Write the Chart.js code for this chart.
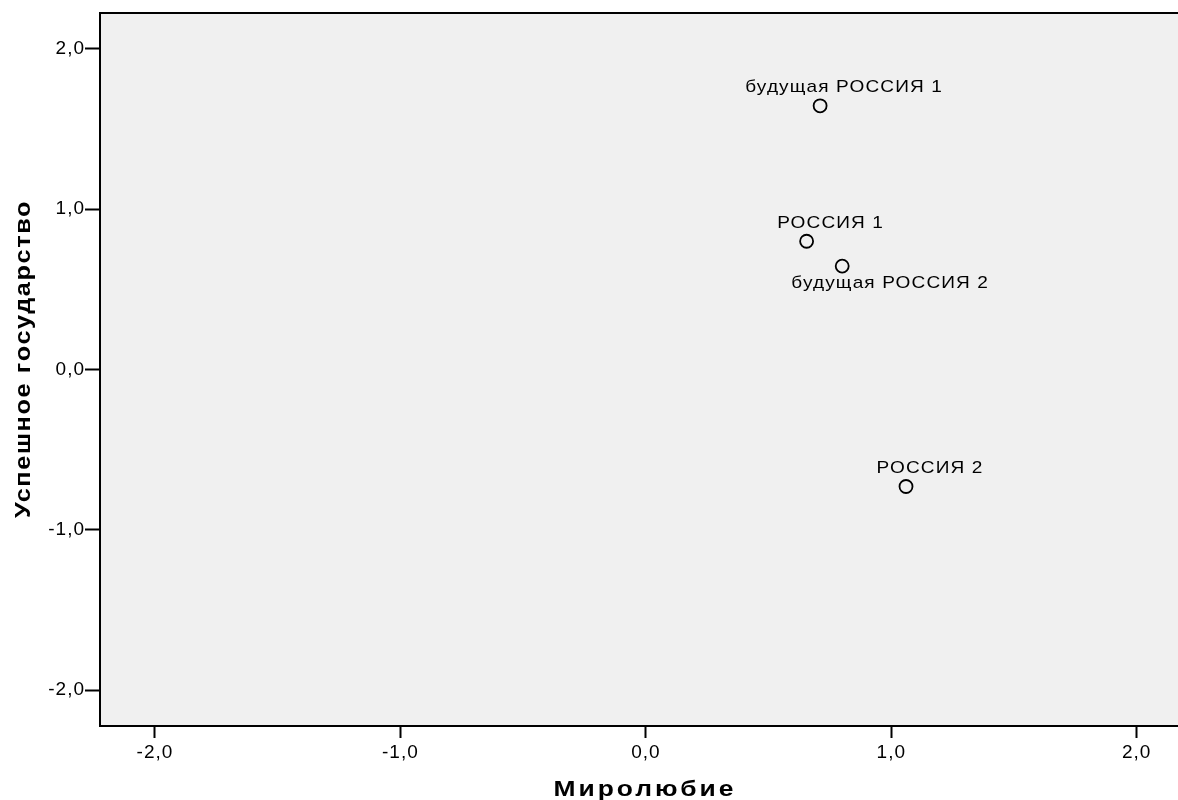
<!DOCTYPE html>
<html>
<head>
<meta charset="utf-8">
<script src="https://cdn.jsdelivr.net/npm/chart.js@4"></script>
<style>
  html, body { margin: 0; padding: 0; background: #fff; overflow: hidden; }
  #wrap { width: 1200px; height: 800px; }
</style>
</head>
<body>
<div id="wrap"><canvas id="chart"></canvas></div>
<script>
// data
const pointNames = ["будущая РОССИЯ 1", "РОССИЯ 1", "будущая РОССИЯ 2", "РОССИЯ 2"];
const peaceValues = [0.71, 0.655, 0.80, 1.06];     // Миролюбие (x)
const successValues = [1.645, 0.80, 0.645, -0.73]; // Успешное государство (y)
const tickValues = [-2, -1, 0, 1, 2];

const xTitle = "Миролюбие";
const yTitle = "Успешное государство";

// label placement, relative to the marker (px)
const labelOffsets = [
  { dx: 24, dy: -18 },
  { dx: 24, dy: -18 },
  { dx: 48, dy: 17 },
  { dx: 24, dy: -18 },
];

const fmt = (v) => v.toFixed(1).replace(".", ",");

// draw text a bit wider than the font, like the SPSS output
function wideText(ctx, text, x, y, sx, spacing) {
  ctx.save();
  ctx.translate(x, y);
  ctx.scale(sx, 1);
  ctx.letterSpacing = spacing + "px";
  ctx.fillText(text, 0, 0);
  ctx.restore();
}

const plotFrame = {
  id: "plotFrame",
  beforeDraw(chart) {
    const { ctx, chartArea: a } = chart;
    ctx.save();
    ctx.fillStyle = "#f0f0f0";
    ctx.fillRect(a.left, a.top, a.right - a.left, a.bottom - a.top);
    ctx.strokeStyle = "#000";
    ctx.lineWidth = 2;
    ctx.strokeRect(a.left, a.top, a.right - a.left, a.bottom - a.top);
    ctx.restore();
    // slightly spaced glyphs for the tick labels
    ctx.letterSpacing = "1px";
  },
  afterDraw(chart) {
    const { ctx } = chart;
    ctx.save();
    ctx.fillStyle = "#000";
    ctx.font = "bold 22px 'Liberation Sans', Arial, sans-serif";
    ctx.textAlign = "center";
    ctx.textBaseline = "middle";
    wideText(ctx, xTitle, 645, 790, 1.2, 2.5);
    ctx.translate(24, 359);
    ctx.rotate(-Math.PI / 2);
    wideText(ctx, yTitle, 0, 0, 1.15, 1.4);
    ctx.restore();
  },
};

const pointLabels = {
  id: "pointLabels",
  afterDatasetsDraw(chart) {
    const { ctx } = chart;
    const meta = chart.getDatasetMeta(0);
    ctx.save();
    ctx.fillStyle = "#000";
    ctx.font = "17px 'Liberation Sans', Arial, sans-serif";
    ctx.textAlign = "center";
    ctx.textBaseline = "middle";
    meta.data.forEach((pt, i) => {
      const o = labelOffsets[i];
      wideText(ctx, pointNames[i], pt.x + o.dx, pt.y + o.dy, 1.12, 1);
    });
    ctx.restore();
  },
};

const tickFont = { family: "'Liberation Sans', Arial, sans-serif", size: 19 };

new Chart(document.getElementById("chart"), {
  type: "scatter",
  data: {
    datasets: [{
      data: peaceValues.map((x, i) => ({ x: x, y: successValues[i] })),
      pointRadius: 6.5,
      pointHoverRadius: 6.5,
      pointBorderWidth: 1.8,
      pointBorderColor: "#000",
      pointBackgroundColor: "rgba(0,0,0,0)",
    }],
  },
  options: {
    responsive: true,
    maintainAspectRatio: false,
    animation: false,
    events: [],
    layout: { padding: { top: 13, right: 8, left: 0, bottom: 0 } },
    plugins: { legend: { display: false }, tooltip: { enabled: false } },
    scales: {
      x: {
        type: "linear",
        min: -2.224,
        max: 2.224,
        afterBuildTicks: (s) => { s.ticks = tickValues.map((v) => ({ value: v })); },
        afterFit: (s) => { s.height = 74; },
        border: { display: false },
        grid: { drawOnChartArea: false, tickLength: 12, tickWidth: 2, tickColor: "#000" },
        ticks: { color: "#000", font: tickFont, padding: 3, maxRotation: 0, callback: (v) => fmt(v) },
      },
      y: {
        type: "linear",
        min: -2.224,
        max: 2.224,
        afterBuildTicks: (s) => { s.ticks = tickValues.map((v) => ({ value: v })); },
        afterFit: (s) => { s.width = 100; },
        border: { display: false },
        grid: { drawOnChartArea: false, tickLength: 15, tickWidth: 2, tickColor: "#000" },
        ticks: { color: "#000", font: tickFont, padding: 0, callback: (v) => fmt(v) },
      },
    },
  },
  plugins: [plotFrame, pointLabels],
});
</script>
</body>
</html>
